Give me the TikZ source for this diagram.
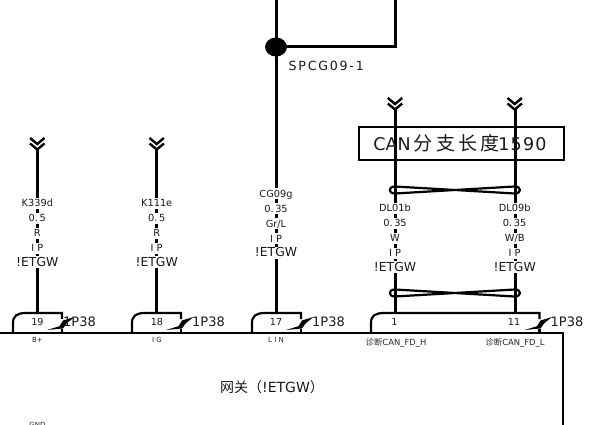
\documentclass[tikz,border=0pt]{standalone}
\usepackage{fontspec}
\setmainfont{DejaVu Sans}
\newfontfamily\cjk{Noto Sans CJK SC}
\tikzset{
 wire/.style={line width=3pt,draw=black,line join=miter},
 wl/.style={fill=white,inner xsep=0.5pt,inner ysep=1.5pt,font=\fontsize{9.8}{11}\selectfont,text=black!90,text height=7.6pt,text depth=0.4pt},
 gw/.style={fill=white,inner xsep=0.5pt,inner ysep=1.5pt,font=\fontsize{12.4}{13}\selectfont,text=black!90,text height=8.6pt,text depth=0.4pt},
 pin/.style={font=\fontsize{9.6}{11}\selectfont,text=black!90,inner sep=0pt},
 sig/.style={font=\fontsize{7}{8}\selectfont,text=black!85,inner sep=0pt},
 conn/.style={font=\fontsize{13}{14}\selectfont,text=black!90,inner sep=0pt,anchor=west},
}
\newcommand{\chev}[2]{%
 \draw[line width=2.4pt] (#1-7.2,#2) -- (#1,#2+6) -- (#1+7.2,#2);
 \draw[line width=2.4pt] (#1-7.2,#2+5.5) -- (#1,#2+11.5) -- (#1+7.2,#2+5.5);}
\newcommand{\labels}[7]{%
 \node[wl] (#7a) at (#1,#2) {#3};
 \node[wl] (#7b) at (#1,#2+15) {#4};
 \node[wl] (#7c) at (#1,#2+30) {#5};
 \node[wl] (#7d) at (#1,#2+45) {#6};
 \node[gw] (#7e) at (#1,#2+59) {!ETGW};}
\newcommand{\housing}[3]{%
 \draw[line width=2.2pt,line join=miter] (#1,333) -- (#1,323) .. controls (#1,316) and (#1+4,313) .. (#1+13,313) -- (#2,313) -- (#2,319);
 \draw[line width=2.2pt] (#2,333) -- (#2,329);
 \fill[black] (#2-15,330) -- (#2-2.5,326.2) -- (#2+1,320.5) -- (#2+12.5,317) -- (#2+4.5,323.5) -- (#2+1,328.5) -- cycle;
 \node[conn] at (#2+#3,322) {1P38};}
\begin{document}
\begin{tikzpicture}[x=1pt,y=-1pt]
\useasboundingbox (0,0) rectangle (602,425);
\coordinate (top1) at (276.5,0);
\coordinate (top2) at (395.5,0);
\node[circle,fill=black,minimum size=19pt,xscale=1.15,inner sep=0pt] (spl) at (276,47) {};
\draw[wire] (top1) -- (276.5,47) -- (395.5,47) -- (top2);
\node[anchor=west,inner sep=0pt,font=\fontsize{12.6}{14}\selectfont\addfontfeature{LetterSpace=14},text=black!90] (spcg) at (288.5,66) {SPCG09-1};
\coordinate (w1t) at (37.5,148); \coordinate (w1b) at (37.5,313);
\coordinate (w2t) at (156.5,148); \coordinate (w2b) at (156.5,313);
\coordinate (w3t) at (276.5,47); \coordinate (w3b) at (276.5,313);
\coordinate (w4t) at (395.5,108); \coordinate (w4b) at (395.5,313);
\coordinate (w5t) at (515,108); \coordinate (w5b) at (515,313);
\foreach \a/\b in {w1t/w1b,w2t/w2b,w3t/w3b,w4t/w4b,w5t/w5b} \draw[wire] (\a) -- (\b);
\chev{37.3}{138}\chev{156.7}{138}\chev{395}{98}\chev{514.7}{98}
\labels{37.3}{203}{K339d}{0.\,5}{R}{I P}{la}
\labels{156.7}{203}{K111e}{0.\,5}{R}{I P}{lb}
\labels{276}{193.5}{CG09g}{0.\,35}{Gr/L}{I P}{lc}
\labels{395}{208}{DL01b}{0.\,35}{W}{I P}{ld}
\labels{514.7}{208}{DL09b}{0.\,35}{W/B}{I P}{le}
\node[draw=black,line width=2.2pt,minimum width=205pt,minimum height=32.5pt,inner sep=0pt,text=black!90] (can) at (461.5,143.5) {\fontsize{17.5}{18}\selectfont\hspace*{-3pt}CAN{\cjk\fontsize{19}{20}\selectfont \,分\,支\,长\,度}\addfontfeature{LetterSpace=7}\kern-1pt 1590};
\foreach \y in {190,293} {
 \draw[line width=2.2pt,line join=round] (395,\y-3.5) .. controls (388,\y-3.5) and (388,\y+3.5) .. (395,\y+3.5)
   -- (514.7,\y-3.5)
   .. controls (521.7,\y-3.5) and (521.7,\y+3.5) .. (514.7,\y+3.5)
   -- (395,\y-3.5) -- cycle;
}
\coordinate (bl) at (0,333); \coordinate (br) at (563,333); \coordinate (bb) at (563,425);
\draw[line width=2.2pt] (bl) -- (br) -- (bb);
\housing{13}{62}{1}
\housing{132}{181}{11}
\housing{252}{301}{11}
\housing{371}{539.5}{11}
\node[pin] (p19) at (37.5,322) {19};
\node[pin] (p18) at (157,322) {18};
\node[pin] (p17) at (276,322) {17};
\node[pin] (p1) at (394.5,322) {1};
\node[pin] (p11) at (514,322) {11};
\node[sig] (s1) at (37.5,340) {B+};
\node[sig] (s2) at (157,340) {I G};
\node[sig] (s3) at (276,340) {L I N};
\node[sig,font=\fontsize{8.4}{9}\selectfont] (s4) at (396,343) {{\cjk 诊断}CAN\_FD\_H};
\node[sig,font=\fontsize{8.4}{9}\selectfont] (s5) at (515,343) {{\cjk 诊断}CAN\_FD\_L};
\node[inner sep=0pt,font=\fontsize{14}{15}\selectfont,text=black!90] (title) at (272,387) {{\cjk 网关（}!ETGW{\cjk ）}};
\node[sig,anchor=north] (g1) at (37.5,422.5) {GND};
\end{tikzpicture}
\end{document}
